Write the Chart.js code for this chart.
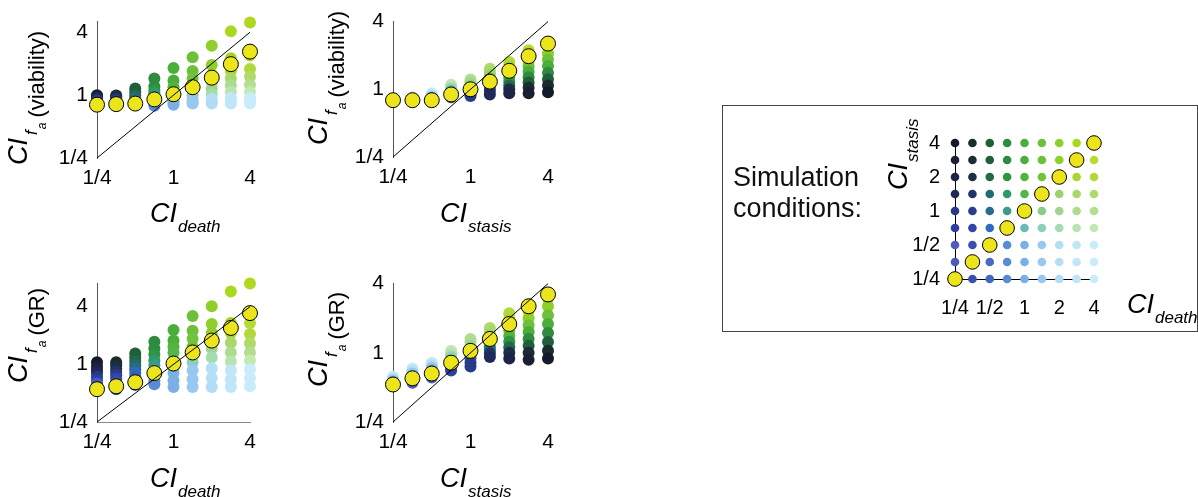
<!DOCTYPE html>
<html>
<head>
<meta charset="utf-8">
<script src="https://cdn.jsdelivr.net/npm/chart.js@4.4.0/dist/chart.umd.min.js"></script>
<style>
  html, body { margin: 0; padding: 0; background: #fff; }
  body { width: 1198px; height: 497px; position: relative; overflow: hidden; font-family: "Liberation Sans", Arial, sans-serif; }
  canvas { position: absolute; }
  #legendBox { position: absolute; left: 722px; top: 105px; width: 476px; height: 227px; border: 1px solid #444; box-sizing: border-box; }
  #simText { position: absolute; left: 733px; top: 162px; font-size: 27px; line-height: 31px; color: #111; }
</style>
</head>
<body>
<canvas id="p1" width="290" height="250" style="left:0;top:0"></canvas>
<canvas id="p2" width="290" height="250" style="left:290px;top:0"></canvas>
<canvas id="p3" width="290" height="235" style="left:0;top:262px"></canvas>
<canvas id="p4" width="290" height="235" style="left:290px;top:262px"></canvas>
<div id="legendBox"></div>
<canvas id="legendChart" width="474" height="225" style="left:723px;top:106px"></canvas>
<div id="simText">Simulation<br>conditions:</div>
<script>
// simulated CI levels (half-octave steps) and tick labels
const ciLevels = [0.25, 0.354, 0.5, 0.707, 1, 1.414, 2, 2.828, 4];
const mainTicks = [0.25, 1, 4];
const legendTicks = [0.25, 0.5, 1, 2, 4];
const tickText = { '0.25': '1/4', '0.5': '1/2', '1': '1', '2': '2', '4': '4' };

// colour of each condition: rows = CI_stasis 1/4 -> 4, columns = CI_death 1/4 -> 4
const conditionColors = [
  ['#3a4fb0', '#3a4fae', '#4466c0', '#5a8bd6', '#7ab0e6', '#98c8f0', '#b0dcf5', '#bfe6f8', '#c8ecf9'],
  ['#4a5cb8', '#3d52b2', '#4a68c0', '#5a8bd6', '#7ab0e6', '#98c8f0', '#b5dff5', '#c0e6f8', '#c8ecf9'],
  ['#4a5cb8', '#3a4fb0', '#3a5cb8', '#5a8bd6', '#7ab0e6', '#98c8f0', '#b5dff5', '#c0e6f8', '#c8ecf9'],
  ['#2f3f9e', '#3344aa', '#2f6bc0', '#4a9aa8', '#6ab8b8', '#8cd0b8', '#a4dcb0', '#b8e4b0', '#c3e8b0'],
  ['#283a8a', '#2b3d8a', '#2a6a8a', '#3a9a88', '#55b070', '#88cc88', '#a0d490', '#acdc90', '#b5dd90'],
  ['#1f2a5a', '#23346a', '#236a70', '#2e9a6a', '#55b548', '#72c040', '#9bd36a', '#a8d868', '#b0da6a'],
  ['#1c2448', '#1c2e48', '#236848', '#2e9540', '#50b53a', '#72c23a', '#90cc30', '#a8d630', '#b2d93c'],
  ['#1a1f33', '#1c2c33', '#1f5f3a', '#2e8b3f', '#4cae3a', '#6cc03a', '#8fcf2a', '#a4d424', '#b5dc30'],
  ['#151a2a', '#1b2a2a', '#1f5f3a', '#2e8b3f', '#4cae3a', '#6cc03a', '#8fcf2a', '#a8d820', '#b0d820']
];

// CI_fa (viability), one row per CI_death level, values for CI_stasis 1/4 -> 4
const viabilityByDeath = [
  [0.81, 0.83, 0.84, 0.86, 0.89, 0.92, 0.95, 0.98, 1.00],
  [0.81, 0.83, 0.84, 0.86, 0.89, 0.92, 0.95, 0.97, 0.99],
  [0.81, 0.83, 0.84, 0.87, 0.90, 0.94, 0.99, 1.07, 1.16],
  [0.79, 0.83, 0.86, 0.92, 0.98, 1.04, 1.11, 1.21, 1.44],
  [0.81, 0.84, 0.88, 0.94, 1.02, 1.09, 1.19, 1.38, 1.82],
  [0.83, 0.85, 0.90, 1.00, 1.11, 1.26, 1.44, 1.70, 2.30],
  [0.83, 0.86, 0.92, 1.02, 1.16, 1.32, 1.56, 1.94, 2.97],
  [0.83, 0.88, 0.94, 1.07, 1.24, 1.44, 1.70, 2.25, 4.09],
  [0.83, 0.88, 0.94, 1.07, 1.26, 1.50, 1.78, 2.40, 4.95]
];
const viabilityMatchedDeath = [0.81, 0.82, 0.83, 0.91, 1.02, 1.19, 1.47, 1.98, 2.61];

// CI_fa (viability), one row per CI_stasis level, values for CI_death 1/4 -> 4
const viabilityByStasis = [
  [0.79, 0.79, 0.79, 0.80, 0.80, 0.80, 0.80, 0.81, 0.82],
  [0.79, 0.79, 0.80, 0.80, 0.81, 0.82, 0.83, 0.84, 0.85],
  [0.79, 0.80, 0.80, 0.82, 0.84, 0.85, 0.87, 0.90, 0.92],
  [0.85, 0.88, 0.90, 0.93, 0.96, 0.99, 1.02, 1.06, 1.10],
  [0.87, 0.90, 0.94, 0.98, 1.02, 1.07, 1.13, 1.17, 1.22],
  [0.90, 0.97, 1.03, 1.10, 1.17, 1.25, 1.34, 1.42, 1.52],
  [0.92, 1.00, 1.08, 1.17, 1.27, 1.38, 1.49, 1.61, 1.75],
  [0.92, 1.03, 1.15, 1.28, 1.43, 1.60, 1.78, 1.97, 2.22],
  [0.94, 1.08, 1.23, 1.40, 1.61, 1.84, 2.09, 2.41, 2.55]
];
const viabilityMatchedStasis = [0.80, 0.80, 0.80, 0.90, 1.00, 1.17, 1.46, 1.97, 2.55];

// CI_fa (GR), one row per CI_death level
const grByDeath = [
  [0.54, 0.58, 0.63, 0.68, 0.74, 0.81, 0.88, 0.95, 1.05],
  [0.55, 0.60, 0.65, 0.71, 0.77, 0.83, 0.90, 0.98, 1.05],
  [0.61, 0.67, 0.74, 0.81, 0.89, 0.98, 1.07, 1.18, 1.30],
  [0.62, 0.68, 0.77, 0.87, 0.98, 1.10, 1.27, 1.46, 1.72],
  [0.58, 0.68, 0.81, 0.95, 1.10, 1.33, 1.53, 1.77, 2.29],
  [0.58, 0.70, 0.87, 1.05, 1.27, 1.53, 1.85, 2.24, 3.19],
  [0.58, 0.72, 0.91, 1.18, 1.46, 1.77, 2.13, 2.64, 4.05],
  [0.58, 0.70, 0.87, 1.07, 1.33, 1.68, 2.13, 2.71, 5.78],
  [0.59, 0.72, 0.89, 1.10, 1.33, 1.65, 2.08, 2.71, 6.98]
];
const grMatchedDeath = [0.55, 0.59, 0.65, 0.81, 1.02, 1.33, 1.77, 2.40, 3.43];

// CI_fa (GR), one row per CI_stasis level
const grByStasis = [
  [0.52, 0.53, 0.54, 0.55, 0.56, 0.57, 0.59, 0.60, 0.62],
  [0.55, 0.57, 0.60, 0.62, 0.63, 0.66, 0.69, 0.71, 0.73],
  [0.61, 0.63, 0.66, 0.69, 0.71, 0.74, 0.77, 0.80, 0.82],
  [0.70, 0.74, 0.77, 0.81, 0.85, 0.90, 0.94, 0.99, 1.04],
  [0.76, 0.82, 0.89, 0.94, 1.02, 1.08, 1.15, 1.24, 1.32],
  [0.92, 0.99, 1.07, 1.14, 1.23, 1.32, 1.42, 1.52, 1.64],
  [0.89, 1.00, 1.12, 1.25, 1.40, 1.57, 1.76, 1.97, 2.21],
  [0.87, 1.00, 1.15, 1.32, 1.52, 1.74, 2.00, 2.30, 2.64],
  [0.89, 1.04, 1.24, 1.49, 1.78, 2.12, 2.54, 2.97, 3.22]
];
const grMatchedStasis = [0.53, 0.60, 0.66, 0.82, 1.04, 1.32, 1.78, 2.54, 3.22];

const FONT = '"Liberation Sans", Arial, Helvetica, sans-serif';
const YELLOW = '#ece51c';

// draws text runs (for subscripts) after the chart
const richText = {
  id: 'richText',
  afterDraw(chart, args, opts) {
    const ctx = chart.ctx;
    (opts.items || []).forEach(it => {
      ctx.save();
      ctx.translate(it.x, it.y);
      if (it.rot) ctx.rotate(it.rot);
      ctx.fillStyle = '#000';
      ctx.textBaseline = 'alphabetic';
      let cx = 0;
      it.runs.forEach(r => {
        ctx.font = r.font;
        cx += r.gap || 0;
        ctx.fillText(r.t, cx, r.dy || 0);
        cx += ctx.measureText(r.t).width;
      });
      ctx.restore();
    });
  }
};

const bigCI = { t: 'CI', font: 'italic 27px ' + FONT };
const sub = (t, gap) => ({ t, font: 'italic 17px ' + FONT, dy: 10, gap: gap || 1 });
function faTitle(x, y, word) {
  return { x, y, rot: -Math.PI / 2, runs: [
    bigCI,
    { t: 'f', font: 'italic 17px ' + FONT, dy: 10, gap: 3 },
    { t: 'a', font: 'italic 12px ' + FONT, dy: 19, gap: 1 },
    { t: word, font: '22px ' + FONT, dy: 17, gap: 5 }
  ] };
}

function logAxis(min, max, ticks, size, pad, fitFn, showLine, lineColor) {
  return {
    type: 'logarithmic', min, max,
    afterBuildTicks: s => { s.ticks = ticks.map(v => ({ value: v })); },
    afterFit: fitFn,
    ticks: {
      callback: v => tickText[String(v)] || '',
      font: { family: FONT, size }, color: '#000', padding: pad,
      maxRotation: 0, autoSkip: false
    },
    grid: { display: false, drawOnChartArea: false, drawTicks: false },
    border: { display: showLine, color: lineColor, width: 1 }
  };
}

function buildPoints(rows, byDeath) {
  const pts = [], cols = [];
  for (let i = 0; i < 9; i++) {
    for (let j = 8; j >= 0; j--) {
      pts.push({ x: ciLevels[i], y: rows[i][j] });
      cols.push(byDeath ? conditionColors[j][i] : conditionColors[i][j]);
    }
  }
  return { pts, cols };
}

function mainChart(id, rows, matched, byDeath, yMax, area, showX, titles) {
  const canvas = document.getElementById(id);
  const W = canvas.width, H = canvas.height;
  const { pts, cols } = buildPoints(rows, byDeath);
  return new Chart(canvas, {
    type: 'scatter',
    data: { datasets: [
      { type: 'line', data: [{ x: 0.25, y: 0.25 }, { x: 4, y: 4 }], borderColor: '#000', borderWidth: 1,
        pointRadius: 0, order: 0, clip: false },
      { data: matched.map((v, i) => ({ x: ciLevels[i], y: v })), pointRadius: 7.5,
        pointBackgroundColor: YELLOW, pointBorderColor: '#000', pointBorderWidth: 1, order: 1, clip: false },
      { data: pts, pointRadius: 6, pointBackgroundColor: cols, pointBorderColor: 'rgba(0,0,0,0)',
        pointBorderWidth: 0, order: 2, clip: false }
    ] },
    options: {
      responsive: false, animation: false, devicePixelRatio: 1,
      layout: { padding: { left: 0, top: area.top, right: W - area.right, bottom: 0 } },
      plugins: { legend: { display: false }, tooltip: { enabled: false }, richText: { items: titles } },
      scales: {
        x: logAxis(0.25, 4, mainTicks, 21, 8, s => { s.height = H - area.bottom; }, showX, '#888'),
        y: logAxis(0.25, yMax, mainTicks, 21, 9, s => { s.width = area.left; }, true, '#555')
      }
    },
    plugins: [richText]
  });
}

mainChart('p1', viabilityByDeath, viabilityMatchedDeath, true, 5.06,
  { left: 97, right: 250, top: 17, bottom: 158 }, false,
  [ { x: 150, y: 222, runs: [bigCI, sub('death')] }, faTitle(27, 165, '(viability)') ]);

mainChart('p2', viabilityByStasis, viabilityMatchedStasis, false, 4,
  { left: 103, right: 258, top: 18, bottom: 157 }, false,
  [ { x: 150, y: 222, runs: [bigCI, sub('stasis')] }, faTitle(37, 145, '(viability)') ]);

mainChart('p3', grByDeath, grMatchedDeath, true, 6.97,
  { left: 97, right: 250, top: 20, bottom: 160 }, true,
  [ { x: 150, y: 225, runs: [bigCI, sub('death')] }, faTitle(27, 121, '(GR)') ]);

mainChart('p4', grByStasis, grMatchedStasis, false, 4,
  { left: 103, right: 258, top: 20, bottom: 160 }, false,
  [ { x: 150, y: 225, runs: [bigCI, sub('stasis')] }, faTitle(37, 125, '(GR)') ]);

// legend: grid of simulated conditions
(function () {
  const canvas = document.getElementById('legendChart');
  const W = canvas.width, H = canvas.height;
  const area = { left: 232, right: 371, top: 37, bottom: 173 };
  const pts = [], cols = [];
  for (let s = 0; s < 9; s++) {
    for (let d = 0; d < 9; d++) {
      pts.push({ x: ciLevels[d], y: ciLevels[s] });
      cols.push(conditionColors[s][d]);
    }
  }
  new Chart(canvas, {
    type: 'scatter',
    data: { datasets: [
      { data: ciLevels.map(v => ({ x: v, y: v })), pointRadius: 7.3, pointBackgroundColor: YELLOW,
        pointBorderColor: '#000', pointBorderWidth: 1, order: 0, clip: false },
      { data: pts, pointRadius: 4.3, pointBackgroundColor: cols, pointBorderColor: 'rgba(0,0,0,0)',
        pointBorderWidth: 0, order: 1, clip: false }
    ] },
    options: {
      responsive: false, animation: false, devicePixelRatio: 1,
      layout: { padding: { left: 0, top: area.top, right: W - area.right, bottom: 0 } },
      plugins: { legend: { display: false }, tooltip: { enabled: false },
        richText: { items: [
          { x: 404, y: 207, runs: [bigCI, sub('death')] },
          { x: 184, y: 84, rot: -Math.PI / 2, runs: [bigCI, { t: 'stasis', font: 'italic 17px ' + FONT, dy: 11, gap: 1 }] }
        ] } },
      scales: {
        x: logAxis(0.25, 4, legendTicks, 20, 17, s => { s.height = H - area.bottom; }, true, '#000'),
        y: logAxis(0.25, 4, legendTicks, 20, 15, s => { s.width = area.left; }, true, '#000')
      }
    },
    plugins: [richText]
  });
})();
</script>
</body>
</html>
